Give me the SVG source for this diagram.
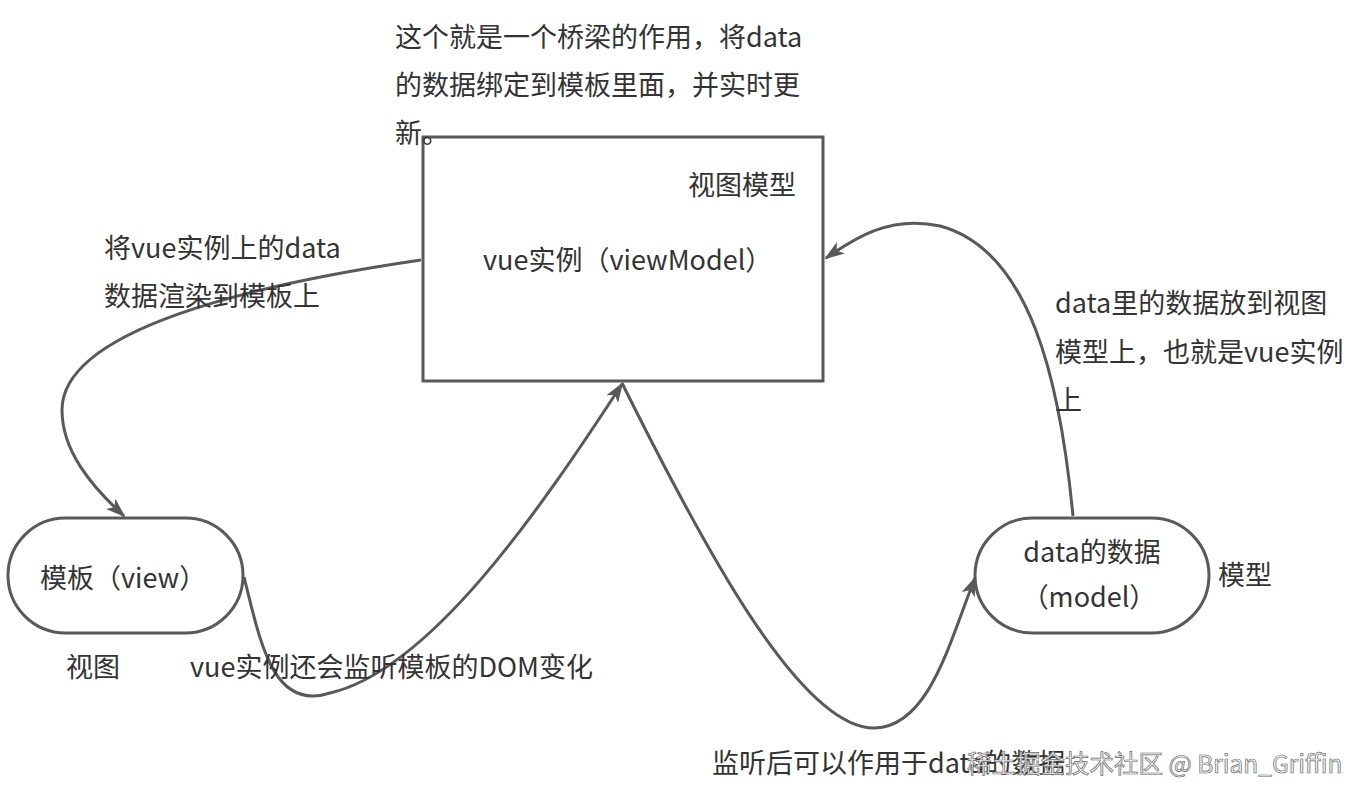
<svg xmlns="http://www.w3.org/2000/svg" width="1372" height="800" viewBox="0 0 1372 800">
<style>
text{font-family:"Noto Sans CJK SC","Noto Sans",sans-serif;font-size:27px;fill:#333}
.shape{fill:#fff;stroke:#595959;stroke-width:3}
.edge{fill:none;stroke:#595959;stroke-width:3}
.wm{font-size:24.5px;fill:#f4f4f4;stroke:#6a6a6a;stroke-width:0.7}
</style>
<defs>
<marker id="arr" viewBox="0 0 20 14" refX="18" refY="7" markerWidth="20" markerHeight="14" markerUnits="userSpaceOnUse" orient="auto">
<path d="M0,0 L20,7 L0,14 L5,7 z" fill="#595959"/>
</marker>
</defs>
<rect width="1372" height="800" fill="#fff"/>
<g id="viewmodel">
<rect class="shape" x="423" y="137" width="400" height="244"/>
<text x="688" y="195">视图模型</text>
<text x="483" y="270">vue实例（viewModel）</text>
</g>
<g id="note-top">
<text x="395" y="47">这个就是一个桥梁的作用，将data</text>
<text x="395" y="95">的数据绑定到模板里面，并实时更</text>
<text x="395" y="143">新。</text>
</g>
<g id="view">
<rect class="shape" x="8" y="518" width="235" height="115" rx="57.5"/>
<text x="40" y="588">模板（view）</text>
<text x="66" y="677">视图</text>
</g>
<g id="model">
<rect class="shape" x="975" y="518" width="234" height="115" rx="57.5"/>
<text x="1092" y="562" text-anchor="middle">data的数据</text>
<text x="1089" y="607" text-anchor="middle">（model）</text>
<text x="1218" y="585">模型</text>
</g>
<g id="connectors">
<path class="edge" marker-end="url(#arr)" d="M421 260 C250 285,62 330,62 410 C62 450,90 485,124 516"/>
<path class="edge" marker-end="url(#arr)" d="M244 577 C260 640,272 712,330 693 C430 670,540 510,622 384"/>
<path class="edge" marker-end="url(#arr)" d="M622 383 C700 540,800 730,875 728 C930 726,950 640,975 578"/>
<path class="edge" marker-end="url(#arr)" d="M1073 516 C1060 380,1030 250,940 226 C890 215,855 238,826 258"/>
</g>
<g id="labels">
<text x="104" y="258">将vue实例上的data</text>
<text x="104" y="306">数据渲染到模板上</text>
<text x="190" y="677">vue实例还会监听模板的DOM变化</text>
<text x="1055" y="313">data里的数据放到视图</text>
<text x="1055" y="362">模型上，也就是vue实例</text>
<text x="1055" y="410">上</text>
<text x="712" y="773">监听后可以作用于data的数据</text>
<text class="wm" x="967" y="773">稀土掘金技术社区 @ Brian_Griffin</text>
</g>
</svg>
